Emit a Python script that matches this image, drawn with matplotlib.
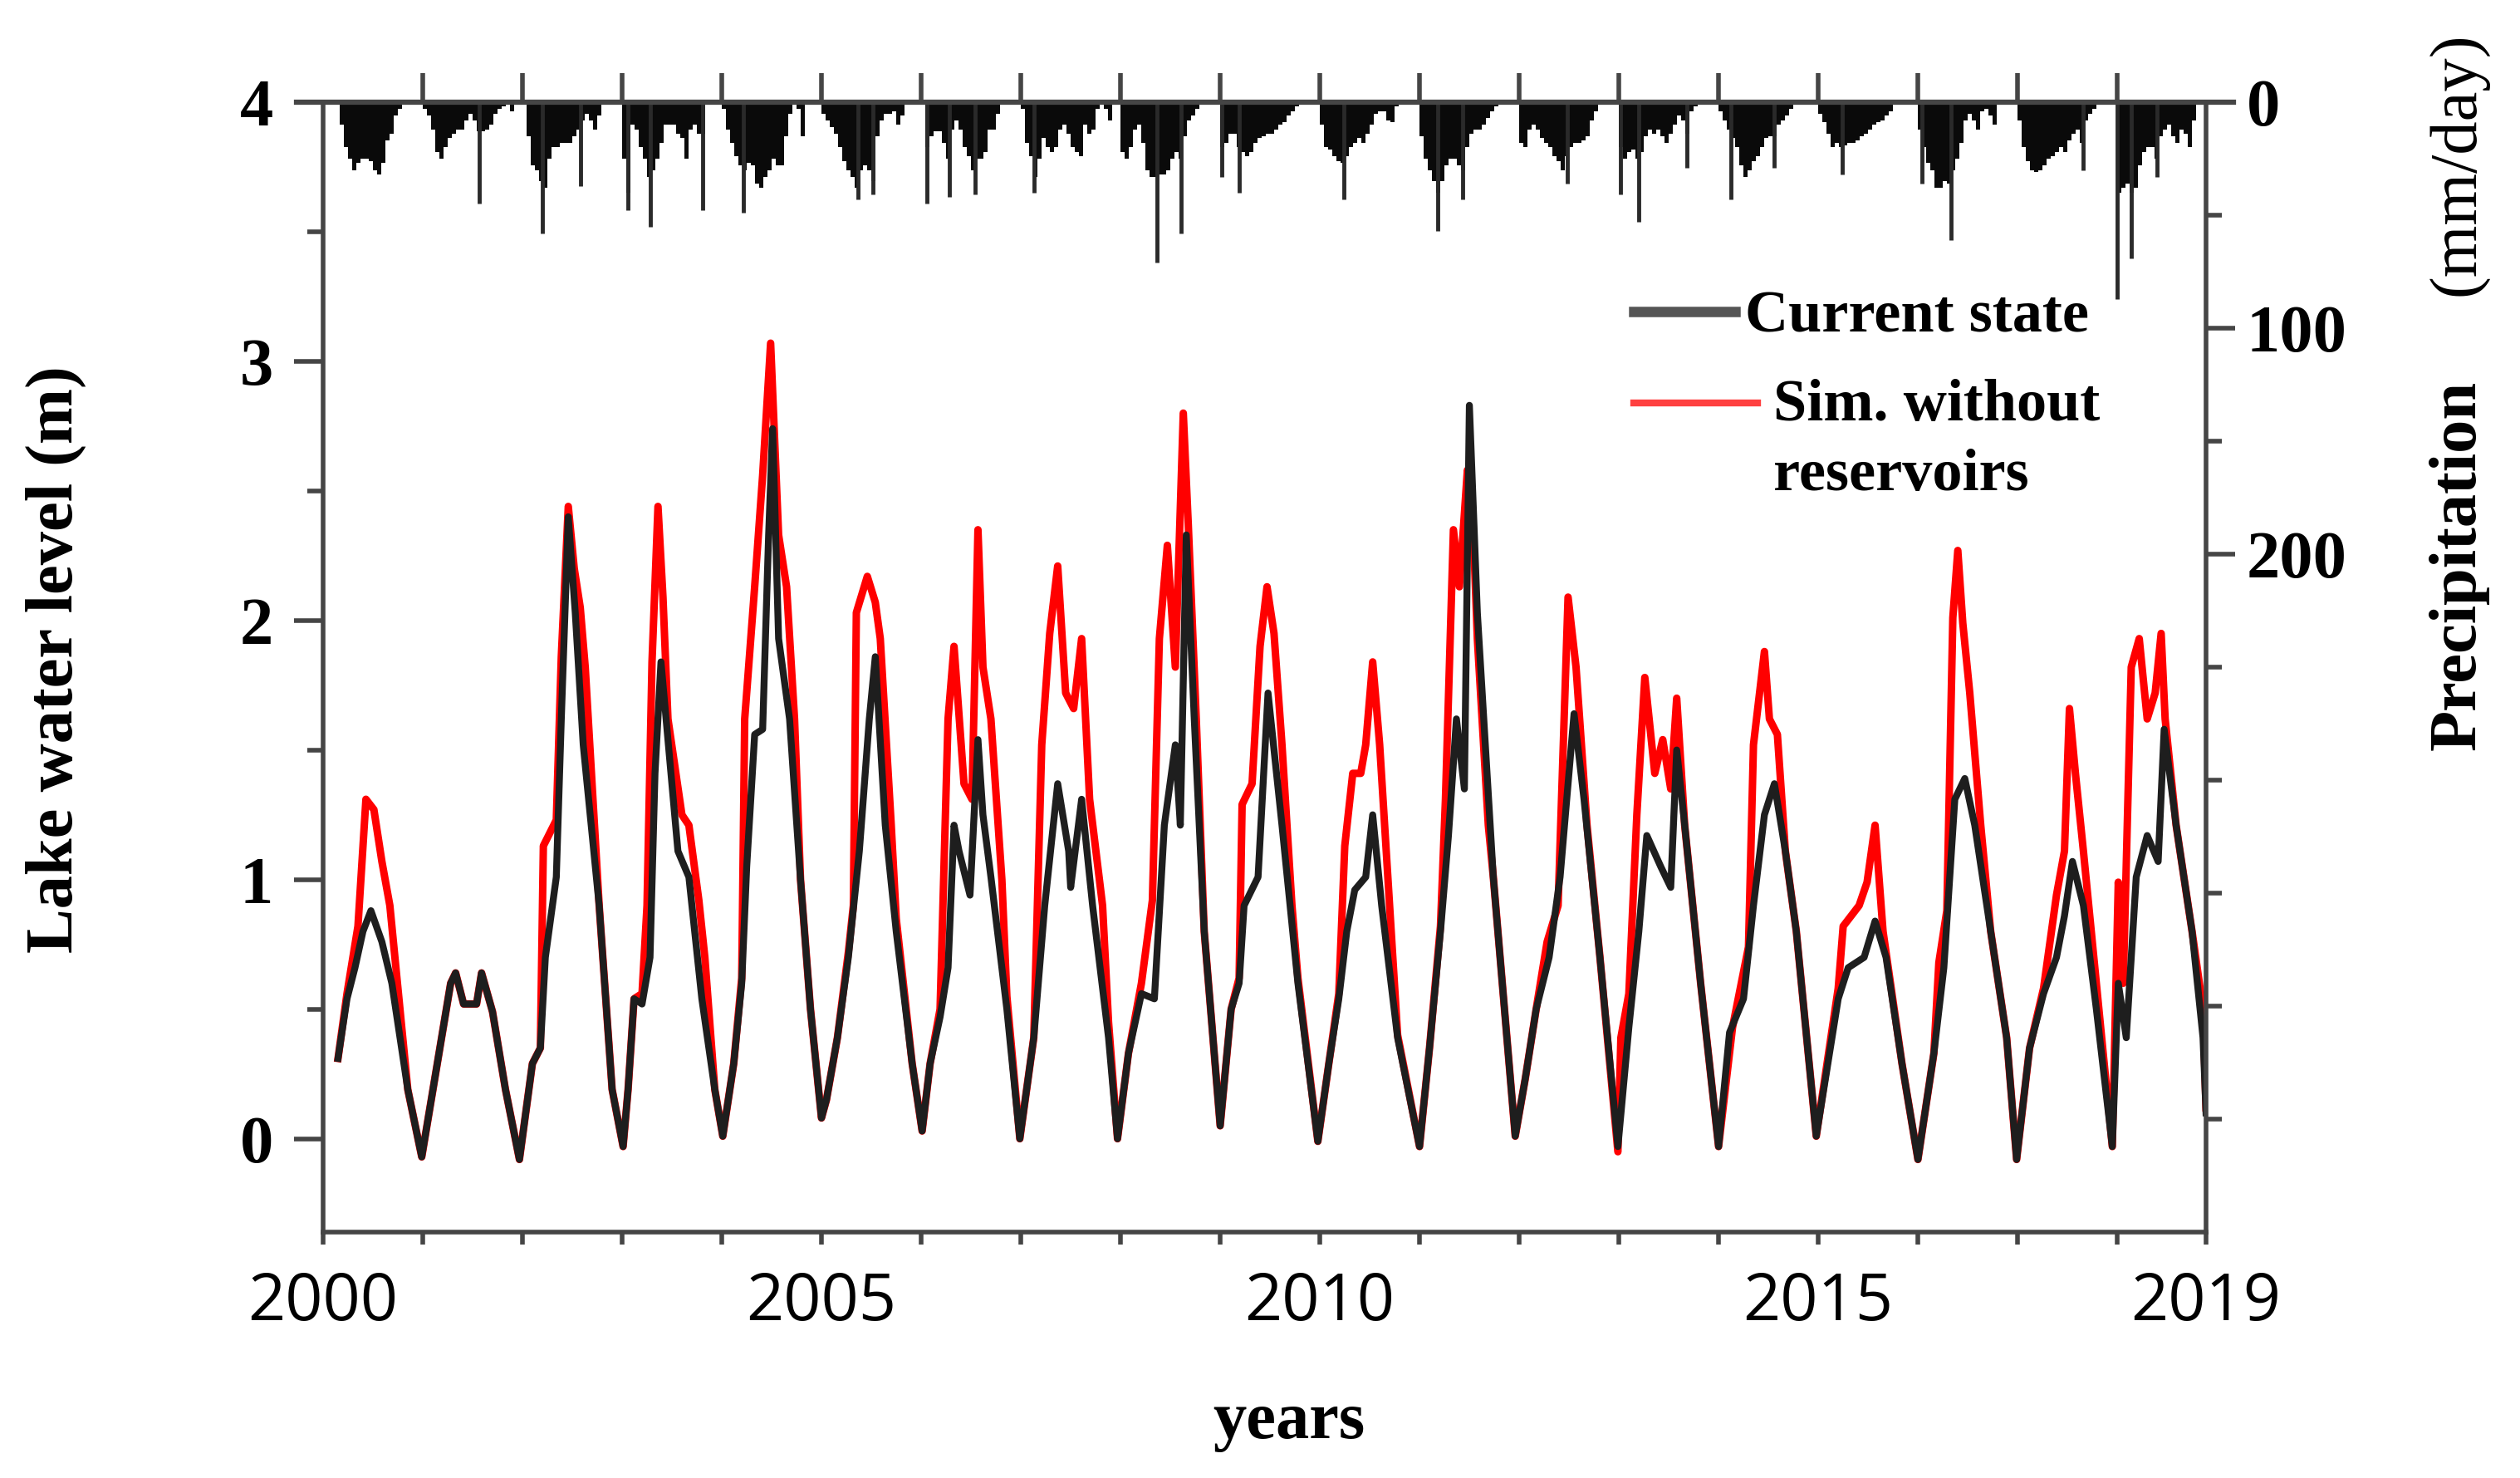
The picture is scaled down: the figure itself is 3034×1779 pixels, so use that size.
import numpy as np
import matplotlib
matplotlib.use("Agg")
import matplotlib.pyplot as plt

###################################################################################################
# data

# lake level, current state (decimal year, m)
cur_t = [
    2000.15, 2000.24, 2000.32, 2000.40, 2000.48, 2000.59, 2000.69, 2000.85, 2000.99,
    2001.12, 2001.28, 2001.33, 2001.41, 2001.54, 2001.59, 2001.70, 2001.83, 2001.97,
    2002.10, 2002.18, 2002.23, 2002.34, 2002.39, 2002.46, 2002.53, 2002.61, 2002.77, 2002.90,
    2003.01, 2003.06, 2003.12, 2003.20, 2003.28, 2003.33, 2003.39, 2003.49, 2003.56, 2003.67, 2003.80, 2003.93,
    2004.01, 2004.12, 2004.20, 2004.25, 2004.33, 2004.41, 2004.47, 2004.51, 2004.57, 2004.68, 2004.79, 2004.89,
    2005.00, 2005.05, 2005.16, 2005.27, 2005.38, 2005.48, 2005.54, 2005.64, 2005.75, 2005.91,
    2006.01, 2006.09, 2006.19, 2006.27, 2006.33, 2006.38, 2006.49, 2006.57, 2006.62, 2006.70, 2006.86,
    2006.99, 2007.13, 2007.24, 2007.37, 2007.48, 2007.50, 2007.61, 2007.72, 2007.88,
    2007.97, 2008.08, 2008.21, 2008.34, 2008.44, 2008.55, 2008.60, 2008.66, 2008.74, 2008.84,
    2009.00, 2009.11, 2009.19, 2009.24, 2009.38, 2009.48, 2009.62, 2009.78,
    2009.98, 2010.09, 2010.19, 2010.27, 2010.35, 2010.46, 2010.53, 2010.62, 2010.78,
    2011.00, 2011.10, 2011.21, 2011.29, 2011.37, 2011.45, 2011.50, 2011.58, 2011.74,
    2011.96, 2012.06, 2012.17, 2012.30, 2012.41, 2012.55, 2012.65, 2012.81,
    2012.99, 2013.10, 2013.20, 2013.28, 2013.42, 2013.52, 2013.58, 2013.66, 2013.82,
    2014.00, 2014.11, 2014.25, 2014.35, 2014.46, 2014.56, 2014.67, 2014.78,
    2014.98, 2015.20, 2015.30, 2015.46, 2015.57, 2015.68, 2015.84,
    2016.00, 2016.16, 2016.26, 2016.37, 2016.47, 2016.57, 2016.73, 2016.89,
    2016.99, 2017.12, 2017.26, 2017.39, 2017.47, 2017.55, 2017.66, 2017.79,
    2017.95, 2018.01, 2018.09, 2018.14, 2018.19, 2018.30, 2018.41, 2018.47, 2018.59, 2018.75, 2018.86, 2018.89,
]
cur_lvl = [
    0.31, 0.54, 0.66, 0.80, 0.88, 0.76, 0.60, 0.19, -0.07,
    0.23, 0.60, 0.64, 0.52, 0.52, 0.64, 0.49, 0.19, -0.08,
    0.29, 0.35, 0.70, 1.01, 1.62, 2.40, 2.03, 1.52, 0.90, 0.19,
    -0.03, 0.19, 0.54, 0.52, 0.70, 1.41, 1.84, 1.41, 1.11, 1.01, 0.54, 0.19,
    0.01, 0.29, 0.60, 1.05, 1.56, 1.58, 2.33, 2.74, 1.93, 1.62, 1.00, 0.50,
    0.08, 0.15, 0.39, 0.70, 1.11, 1.62, 1.86, 1.21, 0.80, 0.29,
    0.03, 0.29, 0.47, 0.66, 1.21, 1.11, 0.94, 1.54, 1.25, 1.01, 0.50,
    0.00, 0.39, 0.90, 1.37, 1.11, 0.97, 1.31, 0.90, 0.39,
    0.00, 0.33, 0.56, 0.54, 1.21, 1.52, 1.21, 2.33, 1.62, 0.80,
    0.05, 0.50, 0.60, 0.90, 1.01, 1.72, 1.21, 0.60,
    -0.01, 0.29, 0.54, 0.80, 0.96, 1.01, 1.25, 0.90, 0.39,
    -0.03, 0.35, 0.80, 1.17, 1.62, 1.35, 2.83, 2.03, 1.01,
    0.01, 0.23, 0.50, 0.70, 1.01, 1.64, 1.31, 0.70,
    -0.03, 0.43, 0.80, 1.17, 1.05, 0.97, 1.50, 1.21, 0.60,
    -0.03, 0.41, 0.54, 0.90, 1.25, 1.37, 1.11, 0.80,
    0.01, 0.54, 0.66, 0.70, 0.84, 0.70, 0.29,
    -0.08, 0.33, 0.66, 1.31, 1.39, 1.21, 0.80, 0.39,
    -0.08, 0.35, 0.56, 0.70, 0.86, 1.07, 0.90, 0.50,
    -0.03, 0.60, 0.39, 0.70, 1.01, 1.17, 1.07, 1.58, 1.21, 0.80, 0.39, 0.10,
]

# lake level, simulation without reservoirs (decimal year, m)
sim_t = [
    2000.15, 2000.24, 2000.35, 2000.43, 2000.51, 2000.59, 2000.67, 2000.85, 2000.99,
    2001.12, 2001.28, 2001.33, 2001.41, 2001.54, 2001.59, 2001.70, 2001.83, 2001.97,
    2002.10, 2002.18, 2002.21, 2002.34, 2002.39, 2002.46, 2002.52, 2002.58, 2002.63, 2002.77, 2002.90,
    2003.01, 2003.06, 2003.12, 2003.20, 2003.25, 2003.30, 2003.36, 2003.41, 2003.46, 2003.60, 2003.67,
    2003.77, 2003.83, 2003.93,
    2004.01, 2004.12, 2004.20, 2004.23, 2004.33, 2004.41, 2004.49, 2004.57, 2004.65, 2004.73, 2004.79, 2004.89,
    2005.00, 2005.05, 2005.16, 2005.27, 2005.32, 2005.35, 2005.46, 2005.54, 2005.59, 2005.70, 2005.75, 2005.91,
    2006.01, 2006.09, 2006.19, 2006.27, 2006.33, 2006.43, 2006.51, 2006.57, 2006.62, 2006.70, 2006.81, 2006.86,
    2006.99, 2007.13, 2007.21, 2007.29, 2007.37, 2007.45, 2007.53, 2007.61, 2007.69, 2007.82, 2007.88,
    2007.97, 2008.08, 2008.21, 2008.32, 2008.39, 2008.47, 2008.55, 2008.63, 2008.68, 2008.76, 2008.84,
    2009.00, 2009.11, 2009.19, 2009.22, 2009.32, 2009.40, 2009.47, 2009.54, 2009.62, 2009.72, 2009.78,
    2009.98, 2010.09, 2010.19, 2010.25, 2010.33, 2010.41, 2010.46, 2010.53, 2010.60, 2010.70, 2010.78,
    2011.00, 2011.10, 2011.21, 2011.26, 2011.34, 2011.40, 2011.48, 2011.53, 2011.58, 2011.69, 2011.74,
    2011.96, 2012.06, 2012.17, 2012.28, 2012.39, 2012.49, 2012.57, 2012.68, 2012.81,
    2012.99, 2013.02, 2013.10, 2013.18, 2013.26, 2013.36, 2013.44, 2013.52, 2013.58, 2013.66, 2013.82,
    2014.00, 2014.14, 2014.30, 2014.35, 2014.46, 2014.51, 2014.59, 2014.67, 2014.78,
    2014.98, 2015.20, 2015.25, 2015.41, 2015.49, 2015.57, 2015.65, 2015.84,
    2016.00, 2016.16, 2016.21, 2016.29, 2016.35, 2016.40, 2016.45, 2016.52, 2016.63, 2016.73, 2016.89,
    2016.99, 2017.12, 2017.26, 2017.39, 2017.47, 2017.52, 2017.58, 2017.66, 2017.79,
    2017.95, 2018.01, 2018.06, 2018.14, 2018.22, 2018.30, 2018.38, 2018.44, 2018.48, 2018.59, 2018.75,
    2018.86, 2018.89,
]
sim_lvl = [
    0.31, 0.56, 0.82, 1.31, 1.27, 1.07, 0.90, 0.19, -0.07,
    0.23, 0.60, 0.64, 0.52, 0.52, 0.64, 0.49, 0.19, -0.08,
    0.29, 0.35, 1.13, 1.23, 1.86, 2.44, 2.20, 2.05, 1.82, 0.90, 0.19,
    -0.03, 0.19, 0.54, 0.56, 0.90, 1.84, 2.44, 2.09, 1.62, 1.25, 1.21,
    0.92, 0.70, 0.19,
    0.01, 0.29, 0.62, 1.62, 2.13, 2.56, 3.07, 2.33, 2.13, 1.62, 1.00, 0.50,
    0.08, 0.15, 0.39, 0.72, 0.90, 2.03, 2.17, 2.07, 1.93, 1.21, 0.85, 0.29,
    0.03, 0.29, 0.50, 1.62, 1.90, 1.37, 1.31, 2.35, 1.82, 1.62, 1.00, 0.55,
    0.00, 0.39, 1.52, 1.95, 2.21, 1.72, 1.66, 1.93, 1.31, 0.90, 0.45,
    0.00, 0.33, 0.60, 0.92, 1.93, 2.29, 1.82, 2.80, 2.37, 1.62, 0.80,
    0.05, 0.50, 0.62, 1.29, 1.37, 1.90, 2.13, 1.95, 1.52, 0.90, 0.62,
    -0.01, 0.29, 0.56, 1.13, 1.41, 1.41, 1.52, 1.84, 1.52, 0.90, 0.40,
    -0.03, 0.35, 0.82, 1.31, 2.35, 2.13, 2.58, 2.44, 1.93, 1.21, 1.01,
    0.01, 0.23, 0.50, 0.76, 0.90, 2.09, 1.82, 1.21, 0.70,
    -0.05, 0.39, 0.56, 1.25, 1.78, 1.41, 1.54, 1.35, 1.70, 1.21, 0.60,
    -0.03, 0.43, 0.74, 1.52, 1.88, 1.62, 1.56, 1.11, 0.80,
    0.01, 0.58, 0.82, 0.90, 0.99, 1.21, 0.80, 0.29,
    -0.08, 0.33, 0.68, 0.88, 2.01, 2.27, 1.99, 1.72, 1.21, 0.80, 0.39,
    -0.08, 0.35, 0.58, 0.94, 1.11, 1.66, 1.41, 1.11, 0.60,
    -0.03, 0.99, 0.60, 1.82, 1.93, 1.62, 1.72, 1.95, 1.62, 1.21, 0.80,
    0.50, 0.12,
]

# precipitation, half-month blocks from Jan 2000 (mm/day)
precip_mm = [
    0, 0, 0, 0, 10, 20, 25, 30, 27, 25, 25, 26, 30, 32, 27, 17, 14, 6, 3, 0, 0, 0, 0, 0,      # 2000
    3, 6, 12, 22, 25, 20, 16, 14, 12, 12, 8, 5, 8, 13, 13, 12, 10, 5, 3, 2, 1, 4, 1, 0,       # 2001
    1, 15, 28, 30, 35, 38, 25, 20, 20, 18, 18, 18, 15, 12, 8, 5, 8, 12, 6, 0, 0, 0, 0, 0,     # 2002
    25, 40, 10, 12, 20, 25, 33, 30, 25, 18, 10, 10, 10, 14, 16, 25, 12, 10, 14, 14, 0, 0, 0, 0,  # 2003
    3, 12, 18, 24, 28, 30, 27, 28, 36, 38, 33, 30, 25, 28, 28, 15, 5, 1, 3, 15, 0, 0, 0, 0,   # 2004
    5, 8, 11, 14, 20, 26, 30, 33, 38, 30, 28, 30, 35, 15, 8, 5, 5, 4, 10, 6, 0, 0, 0, 0,      # 2005
    0, 20, 15, 13, 13, 18, 25, 12, 8, 12, 20, 24, 30, 25, 25, 22, 12, 12, 5, 1, 0, 0, 0, 0,   # 2006
    3, 18, 24, 33, 25, 16, 20, 22, 20, 12, 10, 14, 20, 22, 24, 10, 14, 12, 3, 1, 3, 8, 0, 0,  # 2007
    22, 25, 20, 12, 10, 18, 30, 33, 33, 32, 32, 30, 25, 22, 25, 15, 8, 6, 3, 0, 0, 0, 0, 0,   # 2008
    20, 18, 14, 14, 20, 22, 24, 22, 18, 16, 15, 14, 14, 12, 10, 9, 6, 4, 2, 0, 0, 0, 0, 0,    # 2009
    10, 20, 21, 24, 26, 27, 24, 20, 18, 16, 18, 14, 10, 5, 4, 4, 8, 9, 2, 0, 0, 0, 0, 0,      # 2010
    15, 25, 30, 35, 40, 35, 28, 25, 25, 28, 30, 20, 14, 12, 12, 10, 7, 4, 2, 0, 0, 0, 0, 0,   # 2011
    18, 20, 12, 10, 12, 16, 18, 20, 24, 26, 30, 24, 20, 18, 18, 17, 15, 8, 4, 1, 0, 0, 0, 0,  # 2012
    20, 25, 22, 21, 25, 22, 15, 12, 14, 12, 15, 18, 14, 10, 6, 8, 14, 4, 2, 0, 0, 0, 0, 0,    # 2013
    4, 8, 12, 16, 20, 28, 33, 30, 26, 24, 20, 16, 15, 15, 10, 8, 6, 3, 0, 0, 0, 0, 0, 0,      # 2014
    5, 9, 14, 20, 18, 20, 19, 18, 18, 17, 15, 14, 12, 10, 9, 8, 6, 4, 1, 0, 0, 0, 0, 0,       # 2015
    12, 20, 27, 30, 38, 38, 35, 36, 30, 25, 18, 8, 5, 8, 12, 4, 3, 6, 10, 0, 0, 0, 0, 0,      # 2016
    8, 20, 26, 30, 31, 30, 28, 25, 24, 22, 20, 22, 17, 14, 12, 18, 8, 5, 3, 0, 0, 0, 0, 0,    # 2017
    40, 38, 36, 40, 38, 28, 22, 20, 20, 25, 15, 12, 10, 15, 18, 12, 14, 20, 8, 0, 0, 0, 0, 0, # 2018
]

# single wet days that stick out below the half-month envelope
spike_t = [2001.57, 2002.20, 2002.58, 2003.06, 2003.28, 2003.81, 2004.22, 2005.37, 2005.52, 2006.06,
           2006.28, 2006.54, 2007.13, 2008.37, 2008.61, 2009.02, 2009.19, 2010.24, 2011.18, 2011.43,
           2012.48, 2013.02, 2013.20, 2013.68, 2014.12, 2014.56, 2015.24, 2016.04, 2016.33, 2017.66,
           2018.00, 2018.14, 2018.40]
spike_mm = [45, 58, 37, 48, 55, 48, 49, 43, 41, 45,
            42, 41, 40, 71, 58, 33, 40, 43, 57, 43,
            36, 41, 53, 29, 43, 29, 32, 36, 61, 30,
            87, 69, 33]

x_labels = ["2000", "2005", "2010", "2015", "2019"]
x_label_pos = [2000, 2005, 2010, 2015, 2018.89]

###################################################################################################

SERIF = "Liberation Serif"
AXIS_GREY = "#454545"


def make_plot():
    """Lake level lines with the inverted precipitation bars hanging from the top."""
    fig = plt.figure(figsize=(30.34, 17.79), dpi=100)
    ax = fig.add_axes([0.1282, 0.1664, 0.7472, 0.7645])

    ax.plot(sim_t, sim_lvl, color="#ff0000", lw=6.5, zorder=3)
    ax.plot(cur_t, cur_lvl, color="#1e1e1e", lw=6, zorder=4)

    ax.set_xlim(2000, 2018.89)
    ax.set_ylim(-0.36, 4.0)

    for side in ["top", "right"]:
        ax.spines[side].set_visible(False)
    for side in ["left", "bottom"]:
        ax.spines[side].set_linewidth(4)
        ax.spines[side].set_color(AXIS_GREY)

    ax.set_xticks(x_label_pos)
    ax.set_xticklabels(x_labels, family="Open Sans", fontsize=57)
    ax.set_xticks([y for y in range(2001, 2019) if y % 5], minor=True)
    ax.tick_params(axis="x", which="both", length=11, width=4, color=AXIS_GREY, pad=22)

    ax.set_yticks([0, 1, 2, 3, 4])
    ax.set_yticklabels(["0", "1", "2", "3", "4"], family=SERIF, weight="bold", fontsize=58)
    ax.set_yticks([0.5, 1.5, 2.5, 3.5], minor=True)
    ax.tick_params(axis="y", which="major", length=25, width=4, color=AXIS_GREY, pad=18)
    ax.tick_params(axis="y", which="minor", length=14, width=4, color=AXIS_GREY)

    ax.set_xlabel("years", family=SERIF, weight="bold", fontsize=58)
    ax.xaxis.set_label_coords(0.513, -0.168)
    ax.xaxis.label.set_va("center")
    ax.set_ylabel("Lake water level (m)", family=SERIF, weight="bold", fontsize=58)
    ax.yaxis.set_label_coords(-0.142, 0.507)
    ax.yaxis.label.set_va("center")

    # year ticks standing on top of the precipitation baseline
    sec = ax.secondary_xaxis("top")
    sec.set_xticks(list(range(2001, 2019)))
    sec.tick_params(axis="x", length=25, width=4, color=AXIS_GREY, labeltop=False)
    for sp in sec.spines.values():
        sp.set_visible(False)

    # precipitation on an inverted right axis
    axp = ax.twinx()
    bin_t = 2000 + np.arange(len(precip_mm)) / 24
    axp.bar(bin_t, precip_mm, width=1 / 24, align="edge", color="#0a0a0a", linewidth=0)
    axp.vlines(spike_t, 0, spike_mm, color="#2a2a2a", lw=3.5)
    axp.set_ylim(500, 0)
    axp.axhline(0, xmin=-0.0142, xmax=1.0146, color=AXIS_GREY, lw=4.5, clip_on=False, zorder=5)

    for side in ["top", "left", "bottom"]:
        axp.spines[side].set_visible(False)
    axp.spines["right"].set_linewidth(4)
    axp.spines["right"].set_color(AXIS_GREY)
    axp.set_yticks([0, 100, 200])
    axp.set_yticklabels(["0", "100", "200"], family=SERIF, weight="bold", fontsize=58)
    axp.set_yticks([50, 150, 250, 300, 350, 400, 450], minor=True)
    axp.tick_params(axis="y", which="major", length=25, width=4, color=AXIS_GREY, pad=10)
    axp.tick_params(axis="y", which="minor", length=14, width=4, color=AXIS_GREY)

    axp.text(1.134, 0.590, "Precipitation", transform=axp.transAxes, rotation=90,
             ha="center", va="center", family=SERIF, weight="bold", fontsize=58)
    axp.text(1.134, 0.945, "(mm/day)", transform=axp.transAxes, rotation=90,
             ha="center", va="center", family=SERIF, fontsize=58)

    # hand-placed legend, as in the original
    ax.plot([0.696, 0.750], [0.815, 0.815], transform=ax.transAxes, color="#555555", lw=9)
    ax.text(0.755, 0.815, "Current state", transform=ax.transAxes, ha="left", va="center_baseline",
            family=SERIF, weight="bold", fontsize=52)
    ax.plot([0.696, 0.762], [0.734, 0.734], transform=ax.transAxes, color="#ff4040", lw=6)
    ax.text(0.770, 0.737, "Sim. without", transform=ax.transAxes, ha="left", va="center_baseline",
            family=SERIF, weight="bold", fontsize=52)
    ax.text(0.770, 0.675, "reservoirs", transform=ax.transAxes, ha="left", va="center_baseline",
            family=SERIF, weight="bold", fontsize=52)

    fig.savefig("out.png", dpi=100, facecolor="white")


###################################################################################################

if __name__ == "__main__":
    make_plot()
